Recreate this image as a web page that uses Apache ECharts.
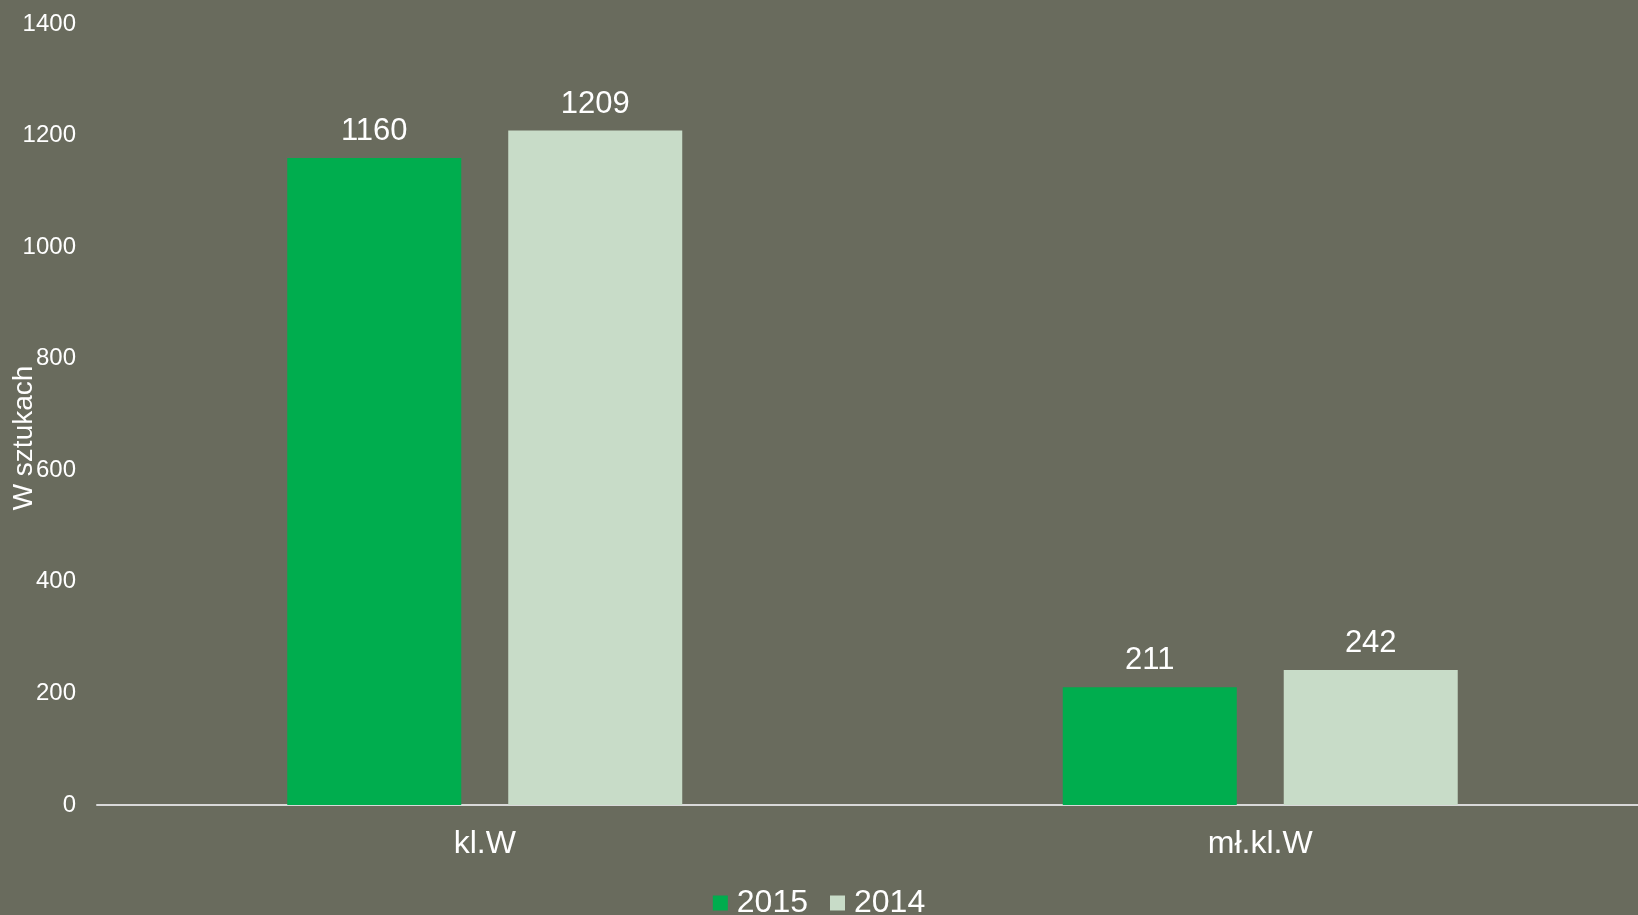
<!DOCTYPE html>
<html>
<head>
<meta charset="utf-8">
<script src="https://cdn.jsdelivr.net/npm/echarts@6/dist/echarts.min.js"></script>
<style>
  html, body { margin: 0; padding: 0; background: #696b5d; }
  #charts { width: 1638px; height: 915px; }
</style>
</head>
<body>
<div id="charts"></div>
<script>
// kategorie na osi x
const categories = ['kl.W', 'mł.kl.W']
// serie danych
const seriesNames = ['2015', '2014']
const values2015 = [1160, 211]
const values2014 = [1209, 242]
// oś y
const yMin = 0
const yMax = 1400
const yStep = 200
const yTitle = 'W sztukach'

const colors = ['#00ad4e', '#c8dcc8']
const font = '"Liberation Sans", Arial, sans-serif'

const chart = echarts.init(document.getElementById('charts'))

const option = {
  backgroundColor: '#696b5d',
  textStyle: { fontFamily: font },
  legend: {
    data: seriesNames,
    bottom: -4,
    padding: 0,
    left: 'center',
    icon: 'rect',
    itemWidth: 15,
    itemHeight: 15,
    itemGap: 22,
    textStyle: { color: '#ffffff', fontSize: 32, fontFamily: font, padding: [0, 0, 0, 4] }
  },
  grid: {
    left: 97,
    top: 24,
    right: -10,
    bottom: 110,
    outerBoundsMode: 'none'
  },
  xAxis: {
    type: 'category',
    data: categories,
    axisLine: { lineStyle: { color: '#d9d9d9', width: 2 } },
    axisTick: { show: false },
    axisLabel: { color: '#ffffff', fontSize: 32, fontFamily: font, margin: 23 }
  },
  yAxis: {
    type: 'value',
    min: yMin,
    max: yMax,
    interval: yStep,
    axisLine: { show: false },
    axisTick: { show: false },
    splitLine: { show: false },
    axisLabel: { color: '#ffffff', fontSize: 24, fontFamily: font, margin: 21, formatter: v => String(v) }
  },
  graphic: [{
    type: 'text',
    x: 24,
    y: 438,
    rotation: Math.PI / 2,
    style: {
      text: yTitle,
      fill: '#ffffff',
      fontSize: 28,
      fontFamily: font,
      align: 'center',
      verticalAlign: 'middle'
    }
  }],
  series: [
    {
      name: seriesNames[0],
      type: 'bar',
      data: values2015,
      barWidth: 174,
      barGap: '27%',
      itemStyle: { color: colors[0] },
      label: { show: true, position: 'top', distance: 11, color: '#ffffff', fontSize: 31, fontFamily: font }
    },
    {
      name: seriesNames[1],
      type: 'bar',
      data: values2014,
      barWidth: 174,
      barGap: '27%',
      itemStyle: { color: colors[1] },
      label: { show: true, position: 'top', distance: 11, color: '#ffffff', fontSize: 31, fontFamily: font }
    }
  ]
}
chart.setOption(option)
</script>
</body>
</html>
